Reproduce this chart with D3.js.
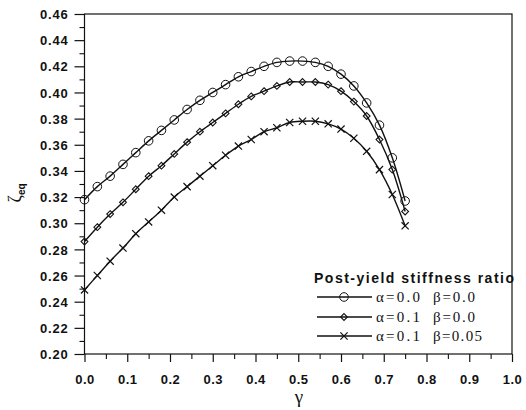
<!DOCTYPE html>
<html>
<head>
<meta charset="utf-8">
<script src="https://cdn.jsdelivr.net/npm/d3@7"></script>
<style>
  html, body { margin: 0; padding: 0; background: #fff; }
  svg { display: block; }
</style>
</head>
<body>
<svg id="chart" width="526" height="410"></svg>
<script>
// ---- data ----
const gamma = [0.00,0.03,0.06,0.09,0.12,0.15,0.18,0.21,0.24,0.27,0.30,0.33,0.36,0.39,0.42,0.45,0.48,0.51,0.54,0.57,0.60,0.63,0.66,0.69,0.72,0.75];
const zetaA0B0 = [0.318,0.328,0.336,0.345,0.354,0.363,0.371,0.379,0.387,0.394,0.400,0.406,0.412,0.416,0.420,0.423,0.424,0.424,0.423,0.420,0.414,0.405,0.392,0.375,0.350,0.317];
const zetaA1B0 = [0.286,0.297,0.307,0.316,0.326,0.336,0.344,0.353,0.362,0.370,0.377,0.384,0.391,0.397,0.401,0.405,0.408,0.408,0.408,0.406,0.401,0.393,0.382,0.364,0.341,0.309];
const zetaA1B05 = [0.249,0.260,0.271,0.281,0.292,0.301,0.310,0.320,0.328,0.336,0.344,0.352,0.359,0.364,0.370,0.373,0.377,0.378,0.378,0.376,0.372,0.365,0.355,0.341,0.322,0.298];
const seriesNames = ["\u03b1=0.0", "\u03b1=0.1", "\u03b1=0.1"];
const seriesBeta = ["\u03b2=0.0", "\u03b2=0.0", "\u03b2=0.05"];
const seriesMarkers = ["circle", "diamond", "cross"];
const xTicks = [0.0,0.1,0.2,0.3,0.4,0.5,0.6,0.7,0.8,0.9,1.0];
const yTicks = [0.20,0.22,0.24,0.26,0.28,0.30,0.32,0.34,0.36,0.38,0.40,0.42,0.44,0.46];
const xMinor = [0.05,0.15,0.25,0.35,0.45,0.55,0.65,0.75,0.85,0.95];
const yMinor = [0.21,0.23,0.25,0.27,0.29,0.31,0.33,0.35,0.37,0.39,0.41,0.43,0.45];
const legendTitle = "Post-yield stiffness ratio";

const seriesValues = [zetaA0B0, zetaA1B0, zetaA1B05];

// ---- layout ----
const L = 84.5, R = 512, T = 14, B = 354;
const svg = d3.select("#chart");
const x = d3.scaleLinear().domain([0, 1]).range([L, R]);
const y = d3.scaleLinear().domain([0.20, 0.46]).range([B, T]);
const ink = "#111";
const sans = "'Liberation Sans', Arial, Helvetica, sans-serif";
const serif = "'Liberation Serif', 'Times New Roman', serif";

// frame
svg.append("rect").attr("x", L).attr("y", T).attr("width", R - L).attr("height", B - T)
  .attr("fill", "none").attr("stroke", ink).attr("stroke-width", 1.2);

// x axis
const gx = svg.append("g").attr("transform", `translate(0,${B})`);
gx.call(d3.axisBottom(x).tickValues(xTicks).tickSize(8).tickFormat(d3.format(".1f")));
gx.select(".domain").remove();
gx.selectAll(".tick line").attr("stroke", ink).attr("stroke-width", 1.2);
gx.selectAll(".tick text").attr("y", 30).attr("dy", 0)
  .attr("font-family", sans).attr("font-weight", "bold").attr("font-size", 13)
  .attr("letter-spacing", 0.4).attr("fill", ink);
const gxm = svg.append("g").attr("transform", `translate(0,${B})`);
gxm.call(d3.axisBottom(x).tickValues(xMinor).tickSize(5).tickFormat(""));
gxm.select(".domain").remove();
gxm.selectAll(".tick line").attr("stroke", ink).attr("stroke-width", 1.1);

// y axis
const gy = svg.append("g").attr("transform", `translate(${L},0)`);
gy.call(d3.axisLeft(y).tickValues(yTicks).tickSize(10).tickFormat(d3.format(".2f")));
gy.select(".domain").remove();
gy.selectAll(".tick line").attr("stroke", ink).attr("stroke-width", 1.2);
gy.selectAll(".tick text").attr("x", -16).attr("dy", "0.36em")
  .attr("font-family", sans).attr("font-weight", "bold").attr("font-size", 13)
  .attr("letter-spacing", 0.8).attr("fill", ink);
const gym = svg.append("g").attr("transform", `translate(${L},0)`);
gym.call(d3.axisLeft(y).tickValues(yMinor).tickSize(5).tickFormat(""));
gym.select(".domain").remove();
gym.selectAll(".tick line").attr("stroke", ink).attr("stroke-width", 1.1);

// axis titles
svg.append("text").attr("x", 299).attr("y", 403).attr("text-anchor", "middle")
  .attr("font-family", serif).attr("font-size", 19).attr("fill", ink).text("\u03b3");
const yl = svg.append("text").attr("transform", "translate(21,193) rotate(-90)")
  .attr("text-anchor", "middle").attr("fill", ink);
yl.append("tspan").attr("font-family", serif).attr("font-size", 18).text("\u03b6");
yl.append("tspan").attr("font-family", sans).attr("font-weight", "bold").attr("font-size", 10)
  .attr("dy", 4).text("eq");

// markers
function drawMarker(g, type, cx, cy) {
  if (type === "circle") {
    g.append("circle").attr("cx", cx).attr("cy", cy).attr("r", 4.3)
      .attr("fill", "none").attr("stroke", ink).attr("stroke-width", 1);
  } else if (type === "diamond") {
    const s = 3.4;
    g.append("path").attr("d", `M${cx},${cy - s}L${cx + s},${cy}L${cx},${cy + s}L${cx - s},${cy}Z`)
      .attr("fill", "none").attr("stroke", ink).attr("stroke-width", 1.1);
  } else {
    const s = 3.6;
    g.append("path").attr("d", `M${cx - s},${cy - s}L${cx + s},${cy + s}M${cx - s},${cy + s}L${cx + s},${cy - s}`)
      .attr("fill", "none").attr("stroke", ink).attr("stroke-width", 1.2);
  }
}

// series
const line = d3.line().x(d => x(d[0])).y(d => y(d[1])).curve(d3.curveCatmullRom.alpha(0.5));
seriesValues.forEach((vals, i) => {
  const pts = gamma.map((g, j) => [g, vals[j]]);
  svg.append("path").datum(pts).attr("d", line)
    .attr("fill", "none").attr("stroke", ink).attr("stroke-width", 1.4);
  const mg = svg.append("g");
  pts.forEach(p => drawMarker(mg, seriesMarkers[i], x(p[0]), y(p[1])));
});

// legend
svg.append("text").attr("x", 314).attr("y", 283)
  .attr("font-family", sans).attr("font-weight", "bold").attr("font-size", 14)
  .attr("textLength", 200).attr("lengthAdjust", "spacing")
  .attr("fill", ink).text(legendTitle);
const rowY = [297, 317, 336];
seriesNames.forEach((name, i) => {
  const ry = rowY[i];
  svg.append("line").attr("x1", 317).attr("x2", 372).attr("y1", ry).attr("y2", ry)
    .attr("stroke", ink).attr("stroke-width", 1.4);
  drawMarker(svg, seriesMarkers[i], 344, ry);
  svg.append("text").attr("x", 376).attr("y", ry + 5)
    .attr("font-family", serif).attr("font-size", 15).attr("fill", ink)
    .attr("textLength", 44).attr("lengthAdjust", "spacing").text(name);
  svg.append("text").attr("x", 433).attr("y", ry + 5)
    .attr("font-family", serif).attr("font-size", 15).attr("fill", ink)
    .attr("textLength", i === 2 ? 49 : 42).attr("lengthAdjust", "spacing").text(seriesBeta[i]);
});
</script>
</body>
</html>
